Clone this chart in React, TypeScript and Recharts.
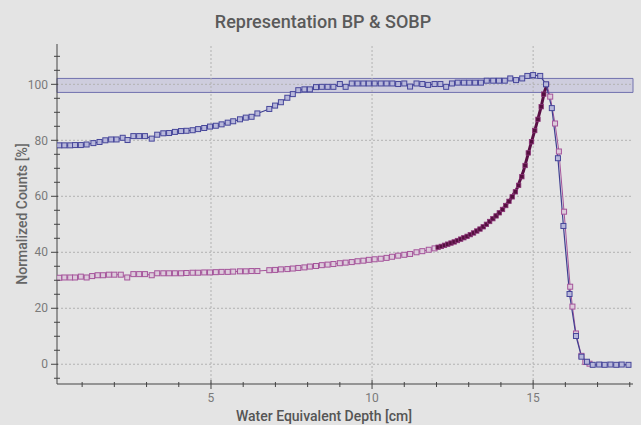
import React from 'react'
import { LineChart, Line, XAxis, YAxis, ReferenceArea, ReferenceLine } from 'recharts'

// SOBP measurement (blue squares)
const sobpDepth = [
  0.29, 0.45, 0.63, 0.78, 0.96, 1.14, 1.35, 1.54, 1.72, 1.9, 2.07, 2.26, 2.41, 2.59, 2.77, 2.95, 3.16, 3.33,
  3.52, 3.7, 3.88, 4.07, 4.24, 4.43, 4.6, 4.79, 4.97, 5.15, 5.33, 5.52, 5.69, 5.9, 6.08, 6.26, 6.44, 6.81,
  6.99, 7.17, 7.37, 7.54, 7.71, 7.9, 8.07, 8.26, 8.44, 8.62, 8.8, 9.0, 9.18, 9.37, 9.55, 9.73, 9.9, 10.08,
  10.27, 10.45, 10.63, 10.81, 11.0, 11.18, 11.38, 11.56, 11.74, 11.94, 12.12, 12.3, 12.48, 12.66, 12.85,
  13.02, 13.2, 13.38, 13.56, 13.76, 13.94, 14.12, 14.29, 14.47, 14.66, 14.82, 15.0, 15.22, 15.4, 15.58,
  15.77, 15.94, 16.13, 16.33, 16.5, 16.67, 16.85, 17.05, 17.22, 17.4, 17.58, 17.75, 17.96,
]
const sobpCounts = [
  78.2, 78.2, 78.2, 78.3, 78.3, 78.5, 79.0, 79.4, 80.0, 80.3, 80.3, 80.9, 80.1, 81.5, 81.5, 81.5, 80.6, 82.0,
  82.5, 82.6, 83.0, 83.3, 83.4, 83.6, 84.0, 84.4, 84.9, 85.2, 85.7, 86.3, 86.8, 87.5, 88.1, 88.4, 89.6, 91.2,
  92.4, 93.6, 95.2, 96.5, 97.9, 98.2, 98.2, 99.0, 99.1, 99.1, 99.1, 100.1, 99.1, 100.3, 100.3, 100.3, 100.3,
  100.3, 100.3, 100.3, 100.3, 100.1, 100.3, 99.2, 100.3, 100.1, 99.8, 100.1, 100.1, 99.1, 100.3, 100.6, 100.6,
  100.6, 100.6, 100.6, 101.3, 101.3, 101.3, 101.3, 102.1, 101.5, 102.1, 103.0, 103.3, 103.0, 100.0, 91.5,
  73.6, 49.4, 25.1, 10.1, 2.7, 0.9, -0.2, -0.1, -0.2, -0.1, -0.2, -0.1, -0.2,
]

// single Bragg peak measurement (magenta squares)
const bpDepth = [
  0.29, 0.45, 0.63, 0.78, 0.96, 1.14, 1.31, 1.48, 1.65, 1.83, 2.0, 2.2, 2.4, 2.59, 2.77, 2.95, 3.16, 3.33,
  3.52, 3.7, 3.88, 4.07, 4.24, 4.43, 4.6, 4.79, 4.97, 5.15, 5.33, 5.52, 5.69, 5.9, 6.08, 6.26, 6.44, 6.81,
  6.99, 7.17, 7.37, 7.54, 7.71, 7.9, 8.07, 8.26, 8.44, 8.62, 8.8, 9.0, 9.18, 9.37, 9.55, 9.73, 9.9, 10.08,
  10.27, 10.45, 10.62, 10.81, 11.0, 11.18, 11.38, 11.56, 11.76, 11.94, 12.05, 12.15, 12.25, 12.35, 12.45,
  12.55, 12.65, 12.75, 12.85, 12.95, 13.05, 13.15, 13.25, 13.35, 13.45, 13.55, 13.65, 13.75, 13.85, 13.95,
  14.05, 14.15, 14.25, 14.35, 14.45, 14.55, 14.65, 14.75, 14.85, 14.95, 15.05, 15.15, 15.25, 15.33, 15.42,
  15.53, 15.68, 15.8, 15.96, 16.15, 16.22, 16.33, 16.5, 16.62, 16.75,
]
const bpCounts = [
  30.9, 31.0, 31.0, 31.0, 31.3, 31.0, 31.5, 31.8, 31.8, 32.0, 32.0, 32.0, 31.0, 32.2, 32.2, 32.2, 31.8, 32.5,
  32.5, 32.5, 32.5, 32.5, 32.6, 32.7, 32.7, 32.8, 32.8, 32.9, 33.0, 33.0, 33.1, 33.2, 33.2, 33.3, 33.3, 33.6,
  33.7, 33.9, 34.0, 34.2, 34.4, 34.6, 34.9, 35.1, 35.4, 35.6, 35.8, 36.1, 36.3, 36.5, 36.8, 37.0, 37.3, 37.5,
  37.7, 38.0, 38.4, 38.8, 39.1, 39.4, 40.0, 40.4, 40.9, 41.4, 41.8, 42.1, 42.5, 42.9, 43.3,
  43.7, 44.2, 44.7, 45.2, 45.7, 46.3, 46.9, 47.6, 48.3, 49.1, 50.0, 51.0, 52.0, 53.0, 54.1,
  55.3, 56.7, 58.2, 59.8, 61.6, 63.9, 67.0, 71.0, 75.5, 79.5, 83.5, 87.5, 92.0, 96.5, 100.0,
  95.6, 86.0, 76.0, 54.5, 27.7, 20.6, 11.0, 3.0, 0.8, 0.2,
]

// fitted distal rise of the Bragg peak (dark line)
const fitDepth = [12.0, 12.5, 13.0, 13.5, 14.0, 14.3, 14.5, 14.7, 14.9, 15.1, 15.25, 15.35, 15.44]
const fitCounts = [41.6, 43.5, 46.0, 49.5, 54.7, 59.0, 62.8, 69.0, 77.5, 85.5, 92.0, 97.3, 100.2]

const xMajor = [5, 10, 15]
const xMinor = [1, 2, 3, 4, 5, 6, 7, 8, 9, 10, 11, 12, 13, 14, 15, 16, 17, 18]
const yMajor = [0, 20, 40, 60, 80, 100]
const yMinor = [-5, 0, 5, 10, 15, 20, 25, 30, 35, 40, 45, 50, 55, 60, 65, 70, 75, 80, 85, 90, 95, 100, 105, 110]
const bandLow = 97.1
const bandHigh = 102.1

const zip = (xs: number[], ys: number[]) => xs.map((x, i) => ({ x, y: ys[i] }))
const sobpData = zip(sobpDepth, sobpCounts)
const bpData = zip(bpDepth, bpCounts)
const fitData = zip(fitDepth, fitCounts)
const fitStart = fitDepth[0]
const fitEnd = fitDepth[fitDepth.length - 1]

const FONT = 'Roboto, sans-serif'
const TICK_COLOR = '#7a7a7a'

const square = (stroke: string, fill: string) => (p: any) => {
  if (p.cx == null || p.cy == null) return <g key={`e-${p.index}`} />
  return (
    <rect key={`s-${p.index}`} x={p.cx - 2.5} y={p.cy - 2.5} width={5} height={5} stroke={stroke} strokeWidth={1} fill={fill} />
  )
}

// dense part of the BP scan sits under the fit, so it reads as a thick dark band
const bpDot = (p: any) => {
  if (p.cx == null || p.cy == null) return <g key={`e-${p.index}`} />
  const d = p.payload?.x
  if (d >= fitStart && d <= fitEnd) {
    return (
      <rect key={`s-${p.index}`} x={p.cx - 2.2} y={p.cy - 2.2} width={4.4} height={4.4} stroke="#8c3478" strokeWidth={0.8} fill="#55103f" />
    )
  }
  return square('#a5559b', '#dccbdb')(p)
}

const BottomTick = (props: any) => {
  const { x, y, payload } = props
  const major = xMajor.includes(payload.value)
  return (
    <g>
      <line x1={x} x2={x} y1={y - (major ? 4 : 2)} y2={y + (major ? 5 : 3)} stroke="#444" />
      {major && (
        <text x={x} y={y + 18} textAnchor="middle" fontSize={12} fill={TICK_COLOR} fontFamily={FONT}>
          {payload.value}
        </text>
      )}
    </g>
  )
}

const LeftTick = (props: any) => {
  const { x, y, payload } = props
  const major = yMajor.includes(payload.value)
  return (
    <g>
      <line x1={x - (major ? 6 : 3)} x2={x + (major ? 1 : 3)} y1={y} y2={y} stroke="#444" />
      {major && (
        <text x={x - 9} y={y} dy="0.35em" textAnchor="end" fontSize={12} fill={TICK_COLOR} fontFamily={FONT}>
          {payload.value}
        </text>
      )}
    </g>
  )
}

const TopTick = (props: any) => {
  const { x, y } = props
  return <line x1={x} x2={x} y1={y} y2={y + 4} stroke="#666" />
}

const RightTick = (props: any) => {
  const { x, y } = props
  return <line x1={x - 2} x2={x + 5} y1={y} y2={y} stroke="#666" />
}

export default function App() {
  return (
    <div style={{ position: 'absolute', left: 0, top: 0, width: 641, height: 425, background: '#e4e4e4', fontFamily: FONT }}>
      <div style={{ position: 'absolute', top: 11, left: 0, width: 646, textAlign: 'center', fontSize: 18, fontWeight: 500, color: '#5a5a5a' }}>
        Representation BP &amp; SOBP
      </div>
      <LineChart width={641} height={425} margin={{ top: 44, right: 8, bottom: 0, left: 0 }}>
        <XAxis
          type="number"
          dataKey="x"
          domain={[0.22, 18.1]}
          allowDataOverflow
          ticks={xMinor}
          interval={0}
          tick={<BottomTick />}
          tickLine={false}
          tickSize={0}
          tickMargin={0}
          height={41}
          axisLine={{ stroke: '#444' }}
        />
        <XAxis
          xAxisId="top"
          orientation="top"
          type="number"
          domain={[0.22, 18.1]}
          allowDataOverflow
          ticks={xMinor}
          interval={0}
          tick={<TopTick />}
          tickLine={false}
          tickSize={0}
          tickMargin={0}
          height={0}
          axisLine={{ stroke: '#777' }}
        />
        <YAxis
          type="number"
          domain={[-7.05, 114.4]}
          allowDataOverflow
          ticks={yMinor}
          interval={0}
          tick={<LeftTick />}
          tickLine={false}
          tickSize={0}
          tickMargin={0}
          width={57}
          axisLine={{ stroke: '#444' }}
        />
        <YAxis
          yAxisId="right"
          orientation="right"
          type="number"
          domain={[-7.05, 114.4]}
          allowDataOverflow
          ticks={yMinor}
          interval={0}
          tick={<RightTick />}
          tickLine={false}
          tickSize={0}
          tickMargin={0}
          width={0}
          axisLine={{ stroke: '#777' }}
        />

        {xMajor.map((v) => (
          <ReferenceLine key={`gx-${v}`} x={v} stroke="#b2b2b2" strokeDasharray="2 2" />
        ))}
        {yMajor.map((v) => (
          <ReferenceLine key={`gy-${v}`} y={v} stroke="#b2b2b2" strokeDasharray="2 2" />
        ))}

        <ReferenceArea y1={bandLow} y2={bandHigh} fill="#b4b1d6" fillOpacity={0.45} stroke="#7272ae" strokeWidth={1} />

        <Line data={bpData} dataKey="y" stroke="#a5559b" strokeWidth={1} dot={bpDot} isAnimationActive={false} />
        <Line data={fitData} dataKey="y" stroke="#5a0f45" strokeWidth={3} dot={false} isAnimationActive={false} />
        <Line
          data={sobpData}
          dataKey="y"
          stroke="#3f3f90"
          strokeWidth={1.2}
          dot={square('#46469a', '#b8b8da')}
          isAnimationActive={false}
        />
      </LineChart>
      <div
        style={{
          position: 'absolute',
          left: 22,
          top: 214,
          transform: 'translate(-50%, -50%) rotate(-90deg)',
          whiteSpace: 'nowrap',
          fontSize: 14,
          fontWeight: 500,
          color: '#666',
        }}
      >
        Normalized Counts [%]
      </div>
      <div
        style={{
          position: 'absolute',
          left: 0,
          width: 648,
          top: 408,
          lineHeight: '16px',
          textAlign: 'center',
          fontSize: 14,
          fontWeight: 500,
          color: '#555',
        }}
      >
        Water Equivalent Depth [cm]
      </div>
    </div>
  )
}
